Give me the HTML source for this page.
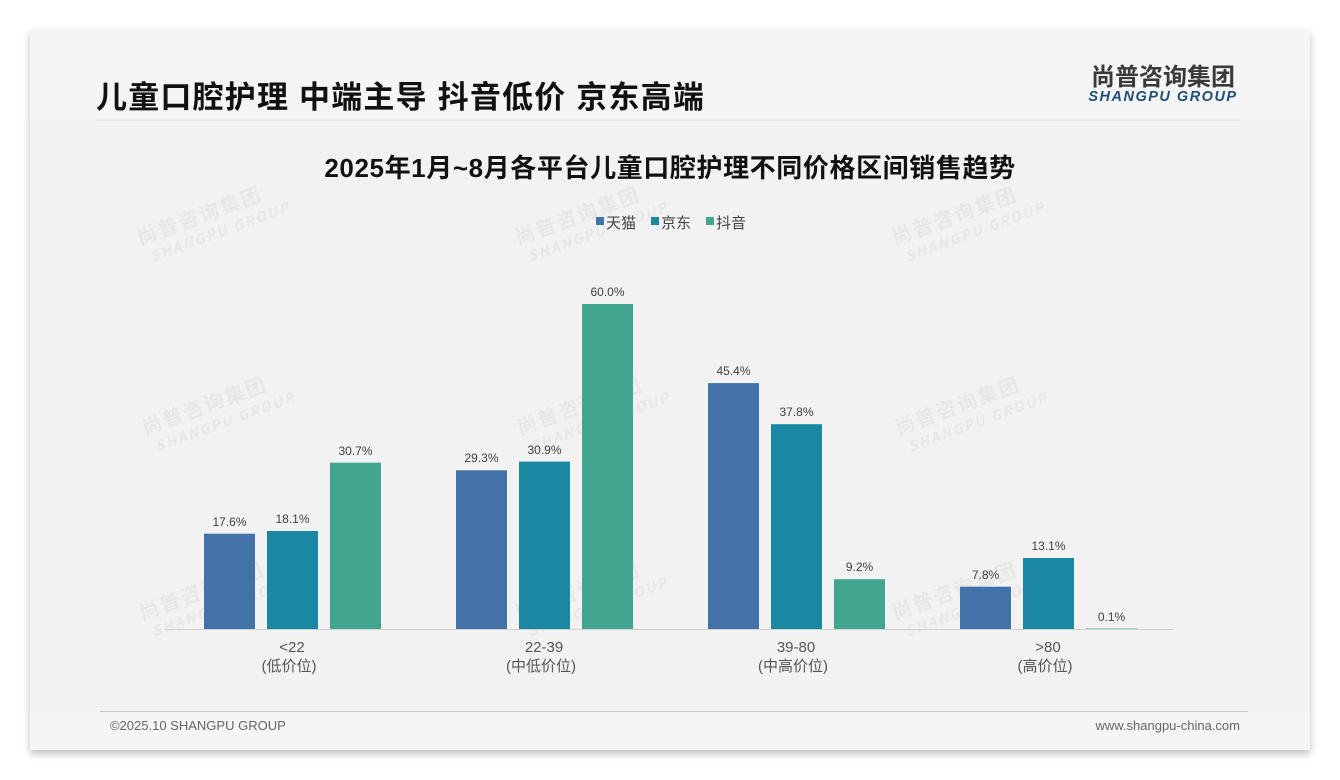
<!DOCTYPE html>
<html><head><meta charset="utf-8"><style>
body{margin:0;width:1340px;height:780px;background:#fff;overflow:hidden;font-family:"Liberation Sans","Noto Sans CJK SC",sans-serif}
</style></head><body>
<svg width="1340" height="780" xmlns="http://www.w3.org/2000/svg" style="position:absolute;left:0;top:0">
<defs><filter id="sh" x="-5%" y="-5%" width="110%" height="115%"><feDropShadow dx="0" dy="4" stdDeviation="4" flood-color="#000" flood-opacity="0.25"/></filter></defs>
<rect x="30" y="30" width="1280" height="720" fill="#f5f5f5" filter="url(#sh)"/>
<rect x="30" y="120" width="1280" height="592" fill="#f2f2f2"/>
<line x1="95" y1="120" x2="1240" y2="120" stroke="#ddd" stroke-width="1"/>
<text x="96" y="108" font-size="31" font-weight="bold" fill="#111" letter-spacing="1.2" font-family="Liberation Sans,Noto Sans CJK SC,sans-serif">儿童口腔护理 中端主导 抖音低价 京东高端</text>
<text x="1163" y="85" font-size="24" font-weight="bold" fill="#3a3a3a" text-anchor="middle" font-family="Noto Sans CJK SC,sans-serif">尚普咨询集团</text>
<text x="1163" y="101" font-size="14.5" font-weight="bold" font-style="italic" fill="#1f4e79" text-anchor="middle" letter-spacing="1.5">SHANGPU GROUP</text>
<g fill="#e7e7e7" font-weight="bold" font-family="Noto Sans CJK SC,sans-serif">
<g transform="translate(140,245) rotate(-20)"><text font-size="20" letter-spacing="2">尚普咨询集团</text><text y="20" x="6" font-size="14" font-style="italic" letter-spacing="2">SHANGPU GROUP</text></g>
<g transform="translate(518,245) rotate(-20)"><text font-size="20" letter-spacing="2">尚普咨询集团</text><text y="20" x="6" font-size="14" font-style="italic" letter-spacing="2">SHANGPU GROUP</text></g>
<g transform="translate(895,245) rotate(-20)"><text font-size="20" letter-spacing="2">尚普咨询集团</text><text y="20" x="6" font-size="14" font-style="italic" letter-spacing="2">SHANGPU GROUP</text></g>
<g transform="translate(145,435) rotate(-20)"><text font-size="20" letter-spacing="2">尚普咨询集团</text><text y="20" x="6" font-size="14" font-style="italic" letter-spacing="2">SHANGPU GROUP</text></g>
<g transform="translate(520,435) rotate(-20)"><text font-size="20" letter-spacing="2">尚普咨询集团</text><text y="20" x="6" font-size="14" font-style="italic" letter-spacing="2">SHANGPU GROUP</text></g>
<g transform="translate(898,435) rotate(-20)"><text font-size="20" letter-spacing="2">尚普咨询集团</text><text y="20" x="6" font-size="14" font-style="italic" letter-spacing="2">SHANGPU GROUP</text></g>
<g transform="translate(142,620) rotate(-20)"><text font-size="20" letter-spacing="2">尚普咨询集团</text><text y="20" x="6" font-size="14" font-style="italic" letter-spacing="2">SHANGPU GROUP</text></g>
<g transform="translate(518,620) rotate(-20)"><text font-size="20" letter-spacing="2">尚普咨询集团</text><text y="20" x="6" font-size="14" font-style="italic" letter-spacing="2">SHANGPU GROUP</text></g>
<g transform="translate(895,620) rotate(-20)"><text font-size="20" letter-spacing="2">尚普咨询集团</text><text y="20" x="6" font-size="14" font-style="italic" letter-spacing="2">SHANGPU GROUP</text></g>
</g>
<text x="670" y="177" font-size="26" font-weight="bold" fill="#111" text-anchor="middle" letter-spacing="0.6" font-family="Liberation Sans,Noto Sans CJK SC,sans-serif">2025年1月~8月各平台儿童口腔护理不同价格区间销售趋势</text>
<g font-size="15" fill="#444" font-family="Liberation Sans,Noto Sans CJK SC,sans-serif">
<rect x="596" y="217" width="8" height="8" fill="#4372a8"/><text x="606" y="228">天猫</text>
<rect x="651" y="217" width="8" height="8" fill="#1a88a2"/><text x="661" y="228">京东</text>
<rect x="706" y="217" width="8" height="8" fill="#41a590"/><text x="716" y="228">抖音</text>
</g>
<line x1="165" y1="629.5" x2="1173" y2="629.5" stroke="#d0d0d0"/>
<g>
<rect x="204" y="533.7" width="51" height="95.3" fill="#4372a8"/>
<rect x="267" y="531" width="51" height="98" fill="#1a88a2"/>
<rect x="330" y="462.7" width="51" height="166.3" fill="#41a590"/>
<rect x="456" y="470.3" width="51" height="158.7" fill="#4372a8"/>
<rect x="519" y="461.6" width="51" height="167.4" fill="#1a88a2"/>
<rect x="582" y="304" width="51" height="325" fill="#41a590"/>
<rect x="708" y="383.1" width="51" height="245.9" fill="#4372a8"/>
<rect x="771" y="424.2" width="51" height="204.8" fill="#1a88a2"/>
<rect x="834" y="579.2" width="51" height="49.8" fill="#41a590"/>
<rect x="960" y="586.7" width="51" height="42.3" fill="#4372a8"/>
<rect x="1023" y="558" width="51" height="71" fill="#1a88a2"/>
<rect x="1086" y="628.5" width="51" height="0.5" fill="#41a590"/>
</g>
<g font-size="12" fill="#404040" text-anchor="middle">
<text x="229.5" y="526">17.6%</text><text x="292.5" y="523">18.1%</text><text x="355.5" y="455">30.7%</text>
<text x="481.5" y="462">29.3%</text><text x="544.5" y="454">30.9%</text><text x="607.5" y="296">60.0%</text>
<text x="733.5" y="375">45.4%</text><text x="796.5" y="416">37.8%</text><text x="859.5" y="571">9.2%</text>
<text x="985.5" y="579">7.8%</text><text x="1048.5" y="550">13.1%</text><text x="1111.5" y="621">0.1%</text>
</g>
<g font-size="15" fill="#555" text-anchor="middle" font-family="Liberation Sans,Noto Sans CJK SC,sans-serif">
<text x="292" y="652">&lt;22</text><text x="289" y="671">(低价位)</text>
<text x="544" y="652">22-39</text><text x="541" y="671">(中低价位)</text>
<text x="796" y="652">39-80</text><text x="793" y="671">(中高价位)</text>
<text x="1048" y="652">&gt;80</text><text x="1045" y="671">(高价位)</text>
</g>
<line x1="100" y1="711.5" x2="1248" y2="711.5" stroke="#b8c8d8" stroke-width="1"/>
<text x="110" y="730" font-size="13" fill="#666">©2025.10 SHANGPU GROUP</text>
<text x="1240" y="730" font-size="13" fill="#666" text-anchor="end">www.shangpu-china.com</text>
</svg>
</body></html>
